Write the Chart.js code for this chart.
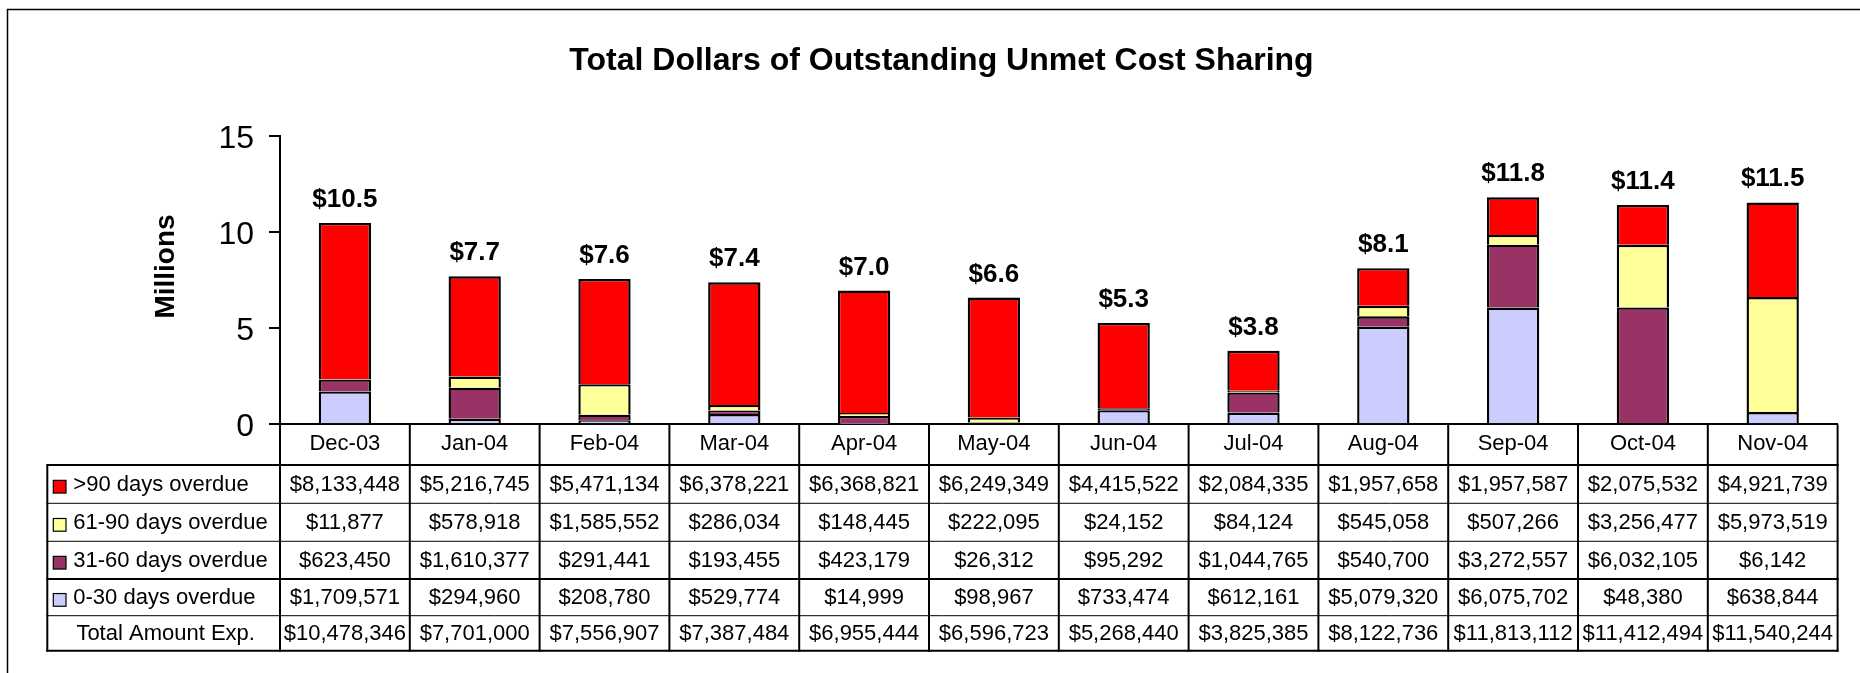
<!DOCTYPE html>
<html>
<head>
<meta charset="utf-8">
<script src="https://cdn.jsdelivr.net/npm/chart.js@4/dist/chart.umd.min.js"></script>
<style>
  html, body { margin: 0; padding: 0; background: #fff; }
  canvas { display: block; }
</style>
</head>
<body>
<canvas id="c" width="1860" height="673"></canvas>
<script>
// ---- data ----
const categories = ['Dec-03','Jan-04','Feb-04','Mar-04','Apr-04','May-04','Jun-04','Jul-04','Aug-04','Sep-04','Oct-04','Nov-04'];
const over90   = [8133448, 5216745, 5471134, 6378221, 6368821, 6249349, 4415522, 2084335, 1957658, 1957587, 2075532, 4921739];
const days61_90 = [11877, 578918, 1585552, 286034, 148445, 222095, 24152, 84124, 545058, 507266, 3256477, 5973519];
const days31_60 = [623450, 1610377, 291441, 193455, 423179, 26312, 95292, 1044765, 540700, 3272557, 6032105, 6142];
const days0_30  = [1709571, 294960, 208780, 529774, 14999, 98967, 733474, 612161, 5079320, 6075702, 48380, 638844];
const totals   = [10478346, 7701000, 7556907, 7387484, 6955444, 6596723, 5268440, 3825385, 8122736, 11813112, 11412494, 11540244];
const seriesNames = ['0-30 days overdue', '31-60 days overdue', '61-90 days overdue', '>90 days overdue'];
const totalLabel = 'Total Amount Exp.';
const yTicks = [0, 5, 10, 15];
const chartTitle = 'Total Dollars of Outstanding Unmet Cost Sharing';
const yTitle = 'Millions';

// ---- styling ----
const FONT = "'Liberation Sans', Arial, Helvetica, sans-serif";
const colors = ['#CCCCFF', '#993366', '#FFFF99', '#FF0000'];

const toM = arr => arr.map(v => v / 1e6);
const money = v => '$' + v.toLocaleString('en-US');

const seriesData = [days0_30, days31_60, days61_90, over90];
const datasets = seriesData.map((d, i) => ({
  label: seriesNames[i],
  data: toM(d),
  backgroundColor: colors[i],
  borderColor: '#000',
  borderWidth: 2.4,
  borderSkipped: 'start',
  barPercentage: 0.403,
  categoryPercentage: 1
}));

const framePlugin = {
  id: 'frame',
  beforeDraw(chart) {
    const ctx = chart.ctx;
    ctx.save();
    ctx.fillStyle = '#fff';
    ctx.fillRect(0, 0, chart.width, chart.height);
    ctx.strokeStyle = '#000';
    ctx.lineWidth = 1.5;
    ctx.strokeRect(7.5, 9.5, 1900, 700);
    ctx.restore();
  }
};

const valueLabels = {
  id: 'valueLabels',
  afterDatasetsDraw(chart) {
    const {ctx, scales: {x, y}} = chart;
    ctx.save();
    ctx.fillStyle = '#000';
    ctx.font = 'bold 26px ' + FONT;
    ctx.textAlign = 'center';
    ctx.textBaseline = 'alphabetic';
    totals.forEach((t, i) => {
      const px = x.getPixelForValue(i);
      const py = y.getPixelForValue(t / 1e6) - 16;
      ctx.fillText('$' + (t / 1e6).toFixed(1), px, py);
    });
    ctx.restore();
  }
};

const tablePlugin = {
  id: 'dataTable',
  afterDraw(chart) {
    const {ctx, chartArea: ca, scales: {x}} = chart;
    const n = categories.length;
    const cw = x.getPixelForValue(1) - x.getPixelForValue(0);
    const colLeft = i => x.getPixelForValue(i) - cw / 2;
    const tableLeft = 47.3;
    const tableRight = colLeft(n);
    const top = ca.bottom;
    const rowY = [40.7, 79, 117, 154.7, 191.4, 226.4].map(d => top + d);
    const ds = chart.data.datasets;
    const rows = [
      {label: ds[3].label, color: ds[3].backgroundColor, values: over90},
      {label: ds[2].label, color: ds[2].backgroundColor, values: days61_90},
      {label: ds[1].label, color: ds[1].backgroundColor, values: days31_60},
      {label: ds[0].label, color: ds[0].backgroundColor, values: days0_30},
      {label: totalLabel, color: null, values: totals}
    ];
    ctx.save();
    ctx.strokeStyle = '#000';
    // horizontal lines
    const hw = [2, 1, 1, 2, 1, 2];
    rowY.forEach((yy, k) => {
      ctx.lineWidth = hw[k];
      ctx.beginPath();
      ctx.moveTo(tableLeft - 1, yy);
      ctx.lineTo(tableRight + 1, yy);
      ctx.stroke();
    });
    // vertical lines
    ctx.lineWidth = 2;
    ctx.beginPath();
    ctx.moveTo(tableLeft, rowY[0]);
    ctx.lineTo(tableLeft, rowY[5] + 1);
    ctx.stroke();
    for (let i = 0; i <= n; i++) {
      const xx = colLeft(i);
      ctx.beginPath();
      ctx.moveTo(xx, top);
      ctx.lineTo(xx, rowY[5] + 1);
      ctx.stroke();
    }
    // texts
    ctx.fillStyle = '#000';
    ctx.font = '22px ' + FONT;
    ctx.textBaseline = 'middle';
    rows.forEach((r, k) => {
      const cy = (rowY[k] + rowY[k + 1]) / 2 + 0.5;
      if (r.color) {
        ctx.fillStyle = r.color;
        ctx.fillRect(53.3, cy - 4.3, 12.7, 12.7);
        ctx.lineWidth = 1.2;
        ctx.strokeRect(53.3, cy - 4.3, 12.7, 12.7);
        ctx.fillStyle = '#000';
        ctx.textAlign = 'left';
        ctx.fillText(r.label, 73.3, cy);
      } else {
        ctx.textAlign = 'center';
        ctx.fillText(r.label, (tableLeft + colLeft(0)) / 2 + 2, cy);
      }
      ctx.textAlign = 'center';
      r.values.forEach((v, i) => {
        ctx.fillText(money(v), x.getPixelForValue(i), cy);
      });
    });
    // y axis title
    ctx.save();
    ctx.translate(166.5, 266.5);
    ctx.rotate(-Math.PI / 2);
    ctx.font = 'bold 28px ' + FONT;
    ctx.textAlign = 'center';
    ctx.textBaseline = 'middle';
    ctx.fillText(yTitle, 0, 0);
    ctx.restore();
    ctx.restore();
  }
};

new Chart(document.getElementById('c'), {
  type: 'bar',
  data: { labels: categories, datasets },
  options: {
    responsive: false,
    animation: false,
    devicePixelRatio: 1,
    layout: { padding: { left: 45.4, right: 22.4, top: 0, bottom: 0 } },
    plugins: {
      legend: { display: false },
      tooltip: { enabled: false },
      title: {
        display: true,
        text: chartTitle,
        color: '#000',
        font: { family: FONT, size: 32, weight: 'bold' },
        padding: { top: 42.2, bottom: 55.4 }
      }
    },
    scales: {
      x: {
        stacked: true,
        grid: { display: false, drawTicks: false },
        border: { display: true, color: '#000', width: 2 },
        ticks: { color: '#000', font: { family: FONT, size: 22 }, padding: 6, maxRotation: 0, autoSkip: false },
        afterFit(s) { s.height = 248.7; }
      },
      y: {
        stacked: true,
        min: 0,
        max: 15,
        afterBuildTicks(s) { s.ticks = yTicks.map(v => ({ value: v })); },
        ticks: { color: '#000', font: { family: FONT, size: 32 }, padding: 15, labelOffset: 3 },
        grid: { drawOnChartArea: false, drawTicks: true, tickLength: 11, color: '#000', lineWidth: 2 },
        border: { display: true, color: '#000', width: 2 },
        afterFit(s) { s.width = 234.6; }
      }
    }
  },
  plugins: [framePlugin, valueLabels, tablePlugin]
});
</script>
</body>
</html>
